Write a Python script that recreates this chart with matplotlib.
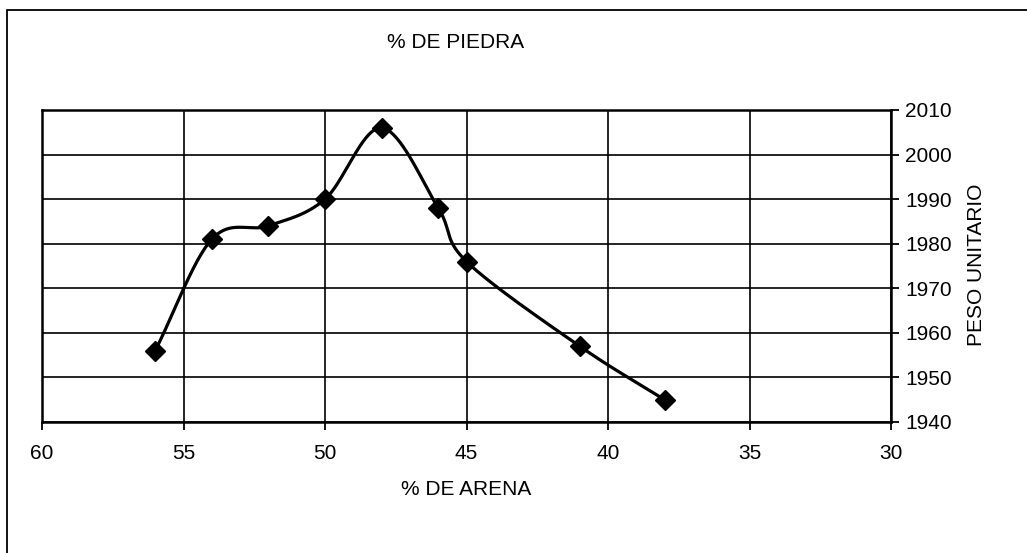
import numpy as np
import matplotlib.pyplot as plt
from matplotlib.patches import Rectangle

plt.rcParams['font.family'] = ['Liberation Sans', 'DejaVu Sans']

arena = [56, 54, 52, 50, 48, 46, 45, 41, 38]
peso = [1956, 1981, 1984, 1990, 2006, 1988, 1976, 1957, 1945]


def catmull_rom(x, y, n=40):
    # smoothed line through the points, like a spreadsheet "smooth line"
    x = np.asarray(x, float)
    y = np.asarray(y, float)
    px = np.concatenate([[2 * x[0] - x[1]], x, [2 * x[-1] - x[-2]]])
    py = np.concatenate([[2 * y[0] - y[1]], y, [2 * y[-1] - y[-2]]])
    t = np.linspace(0, 1, n)
    xs, ys = [], []
    for i in range(1, len(px) - 2):
        for p, out in ((px, xs), (py, ys)):
            p0, p1, p2, p3 = p[i - 1], p[i], p[i + 1], p[i + 2]
            out.append(0.5 * (2 * p1 + (-p0 + p2) * t
                              + (2 * p0 - 5 * p1 + 4 * p2 - p3) * t ** 2
                              + (-p0 + 3 * p1 - 3 * p2 + p3) * t ** 3))
    return np.concatenate(xs), np.concatenate(ys)


fig = plt.figure(figsize=(10.27, 5.53), dpi=100)
ax = fig.add_axes([0.0409, 0.2369, 0.8267, 0.5642])

sx, sy = catmull_rom(arena, peso)
ax.plot(sx, sy, color='black', lw=2.3, zorder=3)
ax.plot(arena, peso, linestyle='none', marker='D', ms=10, color='black', zorder=4)

ax.set_xlim(60, 30)
ax.set_ylim(1940, 2010)
ax.set_xticks(np.arange(60, 29, -5))
ax.set_yticks(np.arange(1940, 2011, 10))
ax.yaxis.tick_right()
ax.grid(True, color='black', lw=1.2)
ax.set_axisbelow(True)
for s in ax.spines.values():
    s.set_linewidth(1.8)
ax.tick_params(axis='both', direction='out', length=6, width=1.3,
               labelsize=15, colors='black')
ax.tick_params(axis='x', pad=10)
ax.tick_params(axis='y', pad=4)

fig.text(0.951, 0.521, 'PESO UNITARIO', fontsize=15, rotation=90,
         ha='center', va='center')
fig.text(0.444, 0.924, '% DE PIEDRA', fontsize=15, ha='center', va='center')
fig.text(0.454, 0.114, '% DE ARENA', fontsize=15, ha='center', va='center')

# outer chart frame
fig.patches.append(Rectangle((0.007, -0.05), 1.05, 1.032, transform=fig.transFigure,
                             fill=False, edgecolor='black', lw=1.3))

fig.savefig('out.png', dpi=100)
